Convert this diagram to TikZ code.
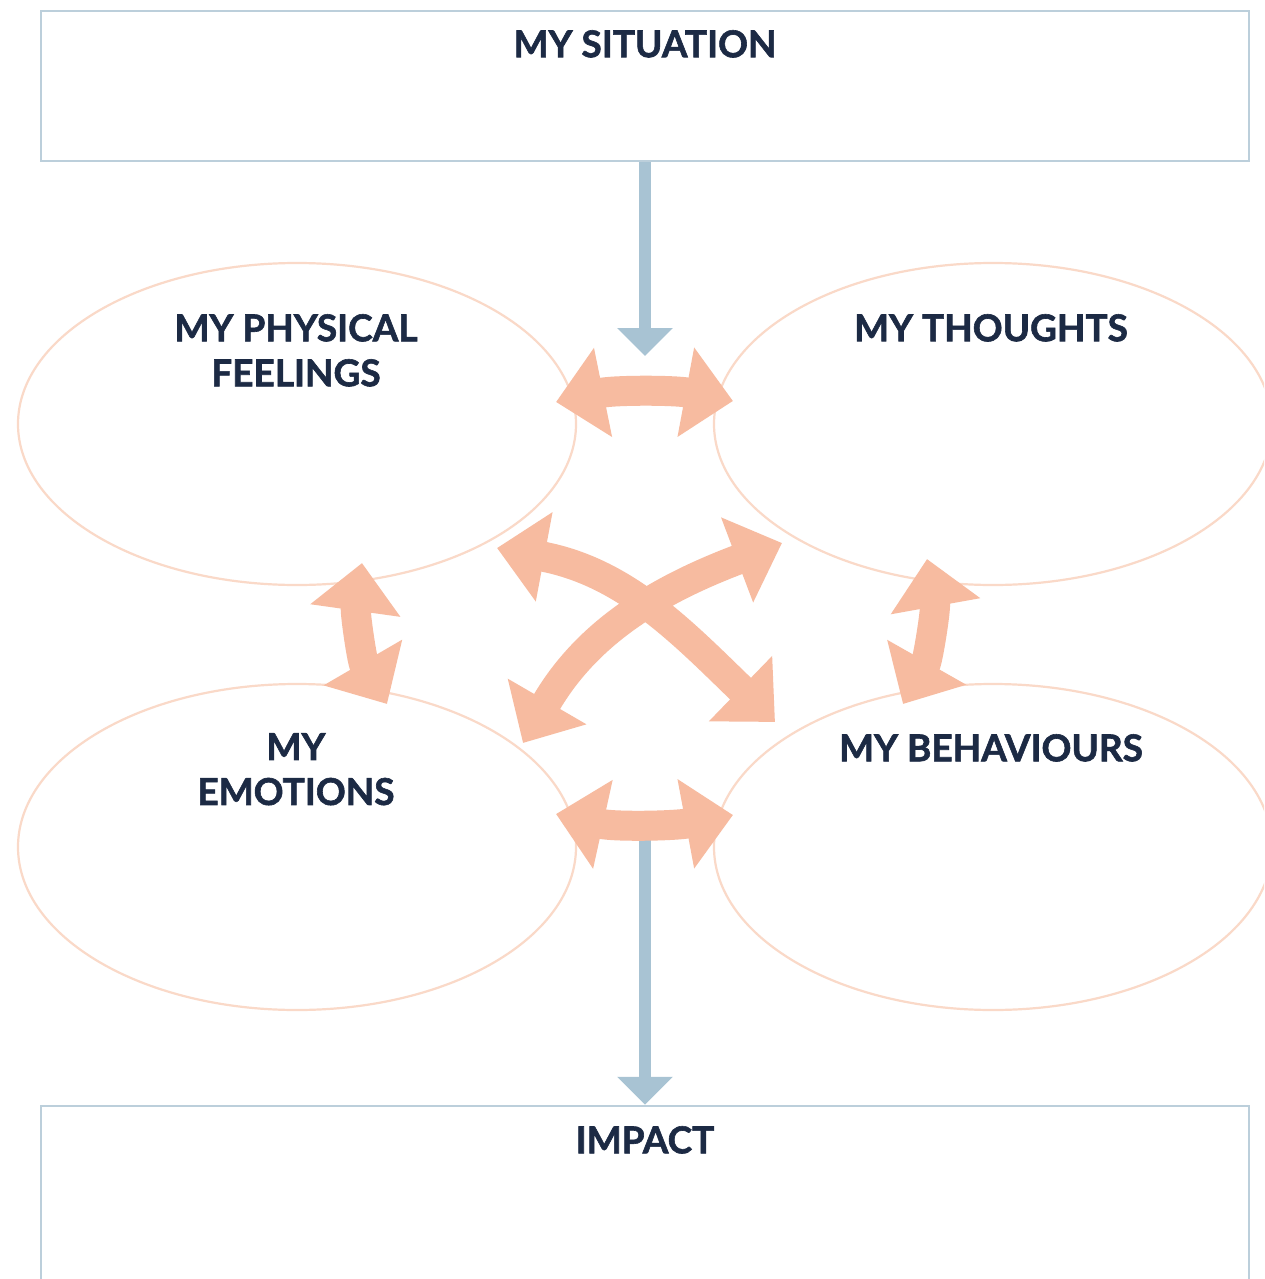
\documentclass[tikz,border=0pt]{standalone}
\usepackage{fontspec}
\setmainfont{Lato}[BoldFeatures={FakeBold=1.6}]
\usetikzlibrary{arrows.meta,shapes.geometric}
\definecolor{navy}{HTML}{1C2A44}
\definecolor{boxline}{HTML}{BCCFDB}
\definecolor{bluearr}{HTML}{A8C3D3}
\definecolor{peach}{HTML}{F7BBA0}
\definecolor{ellline}{HTML}{FAD9C8}
\begin{document}
\begin{tikzpicture}[x=1pt,y=-1pt,
  box/.style={draw=boxline, line width=2.5pt, rectangle, minimum width=1208pt, inner sep=0pt, fill=white},
  ell/.style={draw=ellline, line width=2.2pt, ellipse, minimum width=558pt, minimum height=322pt, inner sep=0pt},
  lbl/.style={text=navy, font=\fontsize{37}{45}\selectfont\bfseries, align=center, anchor=north, inner sep=0pt},
  bluearrow/.style={draw=bluearr, line width=12.5pt, line cap=butt, -{Triangle[length=28pt,width=54pt]}},
  dbl/.style={draw=peach, line width=30pt, line cap=butt, {Triangle[length=48pt,width=88pt]}-{Triangle[length=48pt,width=88pt]}}
]
\useasboundingbox (0,0) rectangle (1264,1279);
\clip (0,0) rectangle (1264,1279);
\fill[white] (0,0) rectangle (1264,1279);

% boxes
\node[box, minimum height=150pt] (sit) at (645,86) {};
\node[box, minimum height=300pt] (imp) at (645,1256) {};

% ellipses
\node[ell] (phys) at (297,424) {};
\node[ell] (thou) at (993,424) {};
\node[ell, minimum height=326pt] (emot) at (297,847) {};
\node[ell, minimum height=326pt] (beha) at (993,847) {};

% labels
\node[lbl] (tsit) at (645,30) {MY SITUATION};
\node[lbl] (timp) at (645,1126) {IMPACT};
\node[lbl] (tphys) at (296,314) {MY PHYSICAL\\FEELINGS};
\node[lbl] (tthou) at (991,314) {MY THOUGHTS};
\node[lbl] (temot) at (296,733) {MY\\EMOTIONS};
\node[lbl] (tbeha) at (991,734) {MY BEHAVIOURS};

% blue arrows
\coordinate (btip) at (645,356);
\coordinate (bstart) at (645,830);
\draw[bluearrow] (sit.south) -- (btip);
\draw[bluearrow] (bstart) -- (imp.north);

% orange arrows
\coordinate (h1a) at (556,402); \coordinate (h1b) at (733,401);
\coordinate (h2a) at (556,814); \coordinate (h2b) at (733,815);
\coordinate (da1) at (497,548); \coordinate (da2) at (775,722);
\coordinate (db1) at (782,543); \coordinate (db2) at (523,743);
\coordinate (vl1) at (362,563); \coordinate (vl2) at (387,704);
\coordinate (vr1) at (927,559); \coordinate (vr2) at (903,704);

\draw[dbl] (h1a) .. controls (615,390) and (674,390) .. (h1b);
\draw[dbl] (h2a) .. controls (615,827) and (674,826) .. (h2b);
\draw[dbl] (da1) .. controls (625,572) and (682,632) .. (da2);
\draw[dbl] (db1) .. controls (660,589) and (588,631) .. (db2);
\draw[dbl] (vl1) .. controls (355,613) and (362,661) .. (vl2);
\draw[dbl] (vr1) .. controls (936,609) and (928,660) .. (vr2);
\end{tikzpicture}
\end{document}
